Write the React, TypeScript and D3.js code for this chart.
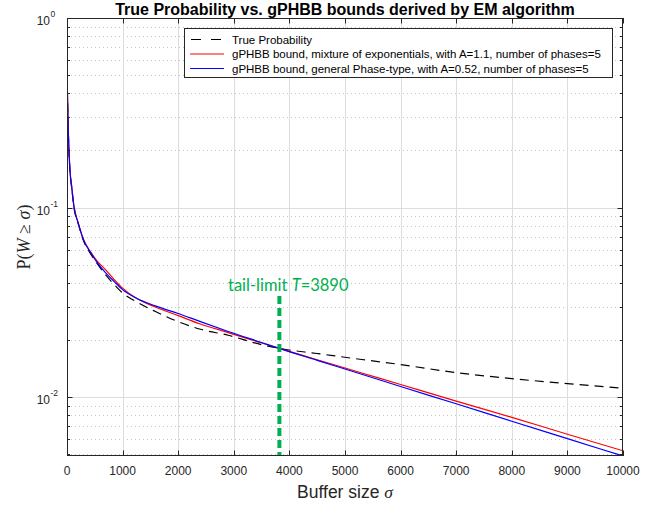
import React, { useRef, useEffect } from 'react';
import * as d3 from 'd3';

// buffer size sigma (x) and the three probability curves (y, log scale)
const sigma = [0, 20, 50, 85, 125, 200, 300, 420, 550, 700, 850, 1000, 1250, 1600, 2000, 2400, 2900, 3500, 3815, 4500, 5300, 6000, 7000, 8000, 9000, 10000];
const trueProb = [0.513, 0.272, 0.160, 0.127, 0.100, 0.0825, 0.0665, 0.0573, 0.0503, 0.0440, 0.0392, 0.0354, 0.0318, 0.0282, 0.0250, 0.0228, 0.0212, 0.0189, 0.01807, 0.01698, 0.01579, 0.01485, 0.01346, 0.01252, 0.01178, 0.01115];
const mixExp = [0.513, 0.278, 0.164, 0.129, 0.102, 0.0835, 0.0676, 0.0586, 0.0519, 0.0468, 0.0417, 0.0376, 0.0332, 0.0298, 0.0269, 0.0243, 0.0219, 0.0193, 0.01807, 0.01575, 0.01341, 0.01165, 0.00953, 0.00782, 0.00637, 0.00521];
const phaseType = [0.513, 0.274, 0.162, 0.128, 0.101, 0.0830, 0.0670, 0.0582, 0.0509, 0.0451, 0.0407, 0.0369, 0.0332, 0.0302, 0.0276, 0.0250, 0.0222, 0.0194, 0.01807, 0.01563, 0.0132, 0.01138, 0.00922, 0.00746, 0.00604, 0.00489];

const xTicks = [0, 1000, 2000, 3000, 4000, 5000, 6000, 7000, 8000, 9000, 10000];
const yDecades = [1, 0.1, 0.01];
const yDecadeExp = ['0', '-1', '-2'];

const legendLabels = [
  'True Probability',
  'gPHBB bound, mixture of exponentials, with A=1.1, number of phases=5',
  'gPHBB bound, general Phase-type, with A=0.52, number of phases=5',
];
const seriesColors = ['#000000', '#ff0000', '#0000ff'];

const tailLimitPos = 3820;
const tailLimitLabel = '3890';

const W = 667;
const H = 506;
const margin = { top: 18, right: 44, bottom: 50, left: 67 };
const axisColor = '#262626';
const font = '"Liberation Sans", Arial, Helvetica, sans-serif';

const App = () => {
  const svgRef = useRef<SVGSVGElement>(null);

  useEffect(() => {
    const svg = d3.select(svgRef.current);
    svg.selectAll('*').remove();

    const x0 = margin.left;
    const x1 = W - margin.right;
    const y0 = H - margin.bottom;
    const y1 = margin.top;

    const x = d3.scaleLinear().domain([0, 10000]).range([x0, x1]);
    const y = d3.scaleLog().domain([d3.min(phaseType) as number, 1]).range([y0, y1]);

    svg.append('rect').attr('width', W).attr('height', H).attr('fill', '#fff');

    svg.append('defs').append('clipPath').attr('id', 'plotClip')
      .append('rect').attr('x', x0).attr('y', y1).attr('width', x1 - x0).attr('height', y0 - y1);

    // grid
    const grid = svg.append('g');
    const allY = y.ticks();
    const minorY = allY.filter(v => Math.abs(Math.log10(v) - Math.round(Math.log10(v))) > 1e-6);
    grid.selectAll('.minor').data(minorY).join('line')
      .attr('x1', x0).attr('x2', x1)
      .attr('y1', d => Math.round(y(d)) + 0.5).attr('y2', d => Math.round(y(d)) + 0.5)
      .attr('stroke', '#c4c4c4').attr('stroke-dasharray', '1,3');
    grid.selectAll('.majY').data(yDecades.slice(1)).join('line')
      .attr('x1', x0).attr('x2', x1)
      .attr('y1', d => Math.round(y(d)) + 0.5).attr('y2', d => Math.round(y(d)) + 0.5)
      .attr('stroke', '#dedede');
    grid.selectAll('.majX').data(xTicks.slice(1, -1)).join('line')
      .attr('x1', d => Math.round(x(d)) + 0.5).attr('x2', d => Math.round(x(d)) + 0.5)
      .attr('y1', y1).attr('y2', y0)
      .attr('stroke', '#dedede');

    // curves
    const line = d3.line<number>()
      .x((d, i) => x(sigma[i]))
      .y(d => y(d))
      .curve(d3.curveMonotoneX);

    const curves = svg.append('g').attr('clip-path', 'url(#plotClip)');
    [trueProb, mixExp, phaseType].forEach((s, k) => {
      curves.append('path')
        .attr('d', line(s))
        .attr('fill', 'none')
        .attr('stroke', seriesColors[k])
        .attr('stroke-width', 1.2)
        .attr('stroke-dasharray', k === 0 ? '9,6' : null);
    });

    // tail-limit marker
    svg.append('line')
      .attr('x1', x(tailLimitPos)).attr('x2', x(tailLimitPos))
      .attr('y1', 296).attr('y2', y0)
      .attr('stroke', '#00b050').attr('stroke-width', 4)
      .attr('stroke-dasharray', '8,4');
    const tl = svg.append('text')
      .attr('x', 228).attr('y', 290.5)
      .attr('fill', '#00b050')
      .attr('font-family', 'Lato, "Noto Sans", sans-serif')
      .attr('font-size', 16.5);
    tl.append('tspan').text('tail-limit ');
    tl.append('tspan').attr('font-style', 'italic').text('T');
    tl.append('tspan').text('=' + tailLimitLabel);

    // axes box and ticks
    const ax = svg.append('g').attr('stroke', axisColor).attr('stroke-width', 1);
    ax.append('rect').attr('x', x0 + 0.5).attr('y', y1 + 0.5)
      .attr('width', x1 - x0 - 1).attr('height', y0 - y1 - 1).attr('fill', 'none');
    xTicks.forEach(t => {
      const px = Math.round(x(t)) + 0.5;
      ax.append('line').attr('x1', px).attr('x2', px).attr('y1', y0).attr('y2', y0 - 5.5);
      ax.append('line').attr('x1', px).attr('x2', px).attr('y1', y1).attr('y2', y1 + 5.5);
    });
    allY.forEach(t => {
      const major = yDecades.some(d => Math.abs(d - t) < 1e-9);
      const len = major ? 5.5 : 3;
      const py = Math.round(y(t)) + 0.5;
      ax.append('line').attr('x1', x0).attr('x2', x0 + len).attr('y1', py).attr('y2', py);
      ax.append('line').attr('x1', x1).attr('x2', x1 - len).attr('y1', py).attr('y2', py);
    });

    // tick labels
    svg.append('g').selectAll('text').data(xTicks).join('text')
      .attr('x', d => x(d)).attr('y', y0 + 19)
      .attr('text-anchor', 'middle')
      .attr('font-family', font).attr('font-size', 12).attr('fill', axisColor)
      .text(d => String(d));

    yDecades.forEach((d, i) => {
      const g = svg.append('g').attr('font-family', font).attr('fill', axisColor);
      g.append('text').attr('x', 50).attr('y', y(d) + 7).attr('text-anchor', 'end')
        .attr('font-size', 12).text('10');
      g.append('text').attr('x', 50.5).attr('y', y(d) - 1).attr('font-size', 8.5).text(yDecadeExp[i]);
    });

    // axis labels and title
    const xl = svg.append('text')
      .attr('x', (x0 + x1) / 2).attr('y', y0 + 42)
      .attr('text-anchor', 'middle')
      .attr('font-family', font).attr('font-size', 17.5).attr('fill', axisColor);
    xl.append('tspan').text('Buffer size ');
    xl.append('tspan').attr('font-family', '"Liberation Serif", serif').attr('font-style', 'italic').text('σ');

    const yl = svg.append('text')
      .attr('transform', `translate(30,237) rotate(-90)`)
      .attr('text-anchor', 'middle')
      .attr('font-family', '"Liberation Serif", "DejaVu Serif", serif')
      .attr('font-size', 18).attr('fill', axisColor);
    yl.append('tspan').text('P(');
    yl.append('tspan').attr('font-style', 'italic').text('W');
    yl.append('tspan').text(' ≥ ');
    yl.append('tspan').attr('font-style', 'italic').text('σ');
    yl.append('tspan').text(')');

    svg.append('text')
      .attr('x', (x0 + x1) / 2).attr('y', 15)
      .attr('text-anchor', 'middle')
      .attr('font-family', font).attr('font-size', 16).attr('font-weight', 'bold')
      .attr('fill', '#000')
      .text('True Probability vs. gPHBB bounds derived by EM algorithm');

    // legend
    const lg = svg.append('g');
    lg.append('rect').attr('x', 184.5).attr('y', 28.5).attr('width', 428).attr('height', 49)
      .attr('fill', '#fff').attr('stroke', axisColor);
    legendLabels.forEach((label, i) => {
      const ly = 39.5 + i * 14.5;
      lg.append('line').attr('x1', 190).attr('x2', 224).attr('y1', ly).attr('y2', ly)
        .attr('stroke', seriesColors[i]).attr('stroke-width', 1.2)
        .attr('stroke-dasharray', i === 0 ? '10,10' : null).attr('stroke-dashoffset', i === 0 ? -1 : 0);
      lg.append('text').attr('x', 232).attr('y', ly + 4.2)
        .attr('font-family', font).attr('font-size', 11.5).attr('fill', '#000')
        .text(label);
    });
  }, []);

  return (
    <svg ref={svgRef} width={W} height={H}
      style={{ position: 'absolute', left: 0, top: 0, display: 'block' }} />
  );
};

export default App;
